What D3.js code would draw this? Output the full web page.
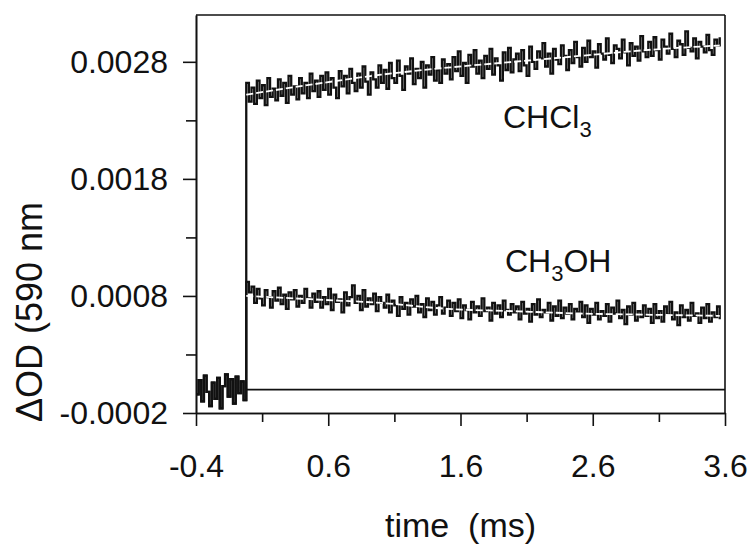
<!doctype html>
<html lang="en">

<head>
    <meta charset="utf-8">
    <title>d3 - transient absorption traces</title>
    <script src="https://cdn.jsdelivr.net/npm/d3@7"></script>
    <style>
        body {
            margin: 0;
            background: #ffffff;
        }

        svg {
            display: block;
            font-family: "Liberation Sans", Arial, sans-serif;
        }

        .axis path,
        .axis line {
            stroke: #111111;
            stroke-width: 1.6px;
        }

        .axis text {
            font-family: "Liberation Sans", Arial, sans-serif;
            font-size: 32px;
            fill: #111111;
        }

        .trace {
            fill: none;
            stroke: #111111;
            stroke-width: 2.3px;
        }

        .fit {
            fill: none;
            stroke: #ffffff;
            stroke-width: 1.8px;
            stroke-dasharray: 7, 3;
        }
    </style>
</head>

<body>
    <svg></svg>
    <script>
        var width = 752;
        var height = 545;
        var plotLeft = 196, plotRight = 725, plotTop = 15, plotBottom = 413;

        // axis ticks
        var xTicks = [-0.4, 0.6, 1.6, 2.6, 3.6];
        var xTickLabels = ["-0.4", "0.6", "1.6", "2.6", "3.6"];
        var xMinorTicks = [0.1, 1.1, 2.1, 3.1];
        var yTicks = [-0.0002, 0.0008, 0.0018, 0.0028];
        var yTickLabels = ["-0.0002", "0.0008", "0.0018", "0.0028"];
        var yMinorTicks = [0.0003, 0.0013, 0.0023];

        // sampling grid (ms)
        var sampleStep = 0.02;
        var preStart = -0.4;
        var postStart = -0.02;

        // before the flash (shared by both solvents)
        var preTrigger = [-0.00004, 0.00008, -0.00010, 0.00012, -0.00002, -0.00014, 0.00006, -0.00008, 0.00010, -0.00016,
            0.00003, 0.00013, -0.00006, 0.00009, -0.00012, 0.00011, -0.00003, 0.00007, -0.00009];

        // CHCl3 trace after the flash
        var chcl3 = [
            0.00262, 0.00246, 0.00258, 0.00244, 0.00264, 0.00249, 0.00260, 0.00243, 0.00266, 0.00250,
            0.00257, 0.00247, 0.00265, 0.00251, 0.00262, 0.00245, 0.00268, 0.00252, 0.00259, 0.00248,
            0.00266, 0.00253, 0.00262, 0.00249, 0.00270, 0.00255, 0.00264,
            0.00250, 0.00268, 0.00256, 0.00271, 0.00252, 0.00266, 0.00258, 0.00249, 0.00272, 0.00259,
            0.00268, 0.00253, 0.00274, 0.00262, 0.00255, 0.00270, 0.00258, 0.00276, 0.00263, 0.00252,
            0.00271, 0.00265, 0.00258, 0.00277, 0.00262,
            0.00273, 0.00257, 0.00279, 0.00266, 0.00262, 0.00281, 0.00268, 0.00256, 0.00276, 0.00270,
            0.00283, 0.00261, 0.00274, 0.00266, 0.00280, 0.00258, 0.00277, 0.00269, 0.00284, 0.00264,
            0.00273, 0.00262, 0.00282, 0.00270, 0.00278,
            0.00265, 0.00284, 0.00272, 0.00289, 0.00268, 0.00279, 0.00262, 0.00286, 0.00276, 0.00290,
            0.00270, 0.00281, 0.00266, 0.00285, 0.00274, 0.00291, 0.00269, 0.00283, 0.00277, 0.00264,
            0.00288, 0.00273, 0.00292, 0.00271, 0.00282,
            0.00287, 0.00272, 0.00290, 0.00277, 0.00268, 0.00293, 0.00280, 0.00274, 0.00289, 0.00283,
            0.00296, 0.00276, 0.00287, 0.00270, 0.00291, 0.00282, 0.00278, 0.00294, 0.00285, 0.00273,
            0.00290, 0.00279, 0.00297, 0.00284, 0.00276,
            0.00292, 0.00280, 0.00298, 0.00284, 0.00289, 0.00275, 0.00295, 0.00287, 0.00282, 0.00300,
            0.00286, 0.00279, 0.00294, 0.00291, 0.00283, 0.00299, 0.00288, 0.00277, 0.00296, 0.00285,
            0.00293, 0.00281, 0.00302, 0.00289, 0.00284,
            0.00297, 0.00285, 0.00301, 0.00290, 0.00282, 0.00299, 0.00293, 0.00287, 0.00304, 0.00291,
            0.00284, 0.00298, 0.00295, 0.00286, 0.00306, 0.00292, 0.00289, 0.00300, 0.00283, 0.00297,
            0.00293, 0.00288, 0.00303, 0.00290, 0.00286, 0.00299, 0.00294, 0.00301];

        // CH3OH trace after the flash
        var ch3oh = [
            0.00092, 0.00083, 0.00088, 0.00074, 0.00086, 0.00078, 0.00072, 0.00085, 0.00079, 0.00070,
            0.00084, 0.00076, 0.00087, 0.00073, 0.00081, 0.00069, 0.00083, 0.00077, 0.00085, 0.00071,
            0.00080, 0.00074, 0.00086, 0.00078, 0.00070, 0.00082, 0.00075,
            0.00084, 0.00070, 0.00079, 0.00073, 0.00086, 0.00068, 0.00081, 0.00075, 0.00077, 0.00066,
            0.00083, 0.00072, 0.00079, 0.00089, 0.00074, 0.00080, 0.00068, 0.00085, 0.00071, 0.00078,
            0.00073, 0.00082, 0.00067, 0.00079, 0.00074,
            0.00070, 0.00081, 0.00066, 0.00076, 0.00072, 0.00063, 0.00079, 0.00069, 0.00074, 0.00064,
            0.00077, 0.00071, 0.00080, 0.00066, 0.00073, 0.00062, 0.00078, 0.00068, 0.00075, 0.00064,
            0.00072, 0.00079, 0.00065, 0.00070, 0.00076,
            0.00063, 0.00074, 0.00067, 0.00077, 0.00061, 0.00072, 0.00068, 0.00060, 0.00075, 0.00066,
            0.00071, 0.00063, 0.00078, 0.00067, 0.00070, 0.00059, 0.00074, 0.00065, 0.00072, 0.00062,
            0.00076, 0.00068, 0.00064, 0.00073, 0.00066,
            0.00071, 0.00060, 0.00075, 0.00065, 0.00069, 0.00058, 0.00073, 0.00064, 0.00077, 0.00062,
            0.00068, 0.00066, 0.00074, 0.00059, 0.00071, 0.00063, 0.00076, 0.00061, 0.00070, 0.00065,
            0.00073, 0.00060, 0.00069, 0.00066, 0.00075,
            0.00062, 0.00072, 0.00057, 0.00069, 0.00064, 0.00074, 0.00060, 0.00067, 0.00063, 0.00073,
            0.00058, 0.00070, 0.00065, 0.00076, 0.00061, 0.00068, 0.00056, 0.00071, 0.00064, 0.00074,
            0.00059, 0.00067, 0.00062, 0.00072, 0.00063,
            0.00069, 0.00057, 0.00073, 0.00061, 0.00067, 0.00058, 0.00071, 0.00064, 0.00075, 0.00060,
            0.00066, 0.00055, 0.00072, 0.00062, 0.00068, 0.00059, 0.00074, 0.00063, 0.00065, 0.00057,
            0.00070, 0.00061, 0.00073, 0.00058, 0.00066, 0.00062, 0.00071, 0.00060];

        // fitted curves (white lines)
        var fitTimes = [-0.02, 0.5, 1.0, 1.5, 2.0, 2.5, 3.0, 3.56];
        var chcl3Fit = [0.00252, 0.00261, 0.00269, 0.00275, 0.00280, 0.00285, 0.00290, 0.00294];
        var ch3ohFit = [0.00080, 0.00077, 0.00074, 0.00069, 0.00067, 0.00065, 0.00064, 0.00063];

        // zero line after the flash
        var baseTimes = [-0.02, 3.6];
        var baseValues = [0, 0];

        var svg = d3.select('svg').attr('width', width).attr('height', height);

        var xScale = d3.scaleLinear().domain([-0.4, 3.6]).range([plotLeft, plotRight]);
        var yScale = d3.scaleLinear().domain([-0.0002, 0.0032]).range([plotBottom, plotTop]);

        var toPoints = function (values, start) {
            return values.map(function (v, i) { return { t: start + i * sampleStep, v: v }; });
        };

        var stepLine = d3.line()
            .x(function (d) { return xScale(d.t); })
            .y(function (d) { return yScale(d.v); })
            .curve(d3.curveStepAfter);

        var smoothLine = d3.line()
            .x(function (d) { return xScale(d.t); })
            .y(function (d) { return yScale(d.v); })
            .curve(d3.curveMonotoneX);

        var prePoints = toPoints(preTrigger, preStart);

        // zero line
        svg.append("path")
            .datum(baseTimes.map(function (t, i) { return { t: t, v: baseValues[i] }; }))
            .attr("class", "trace")
            .attr("stroke-width", 1.6)
            .style("stroke-width", "1.6px")
            .attr("d", smoothLine);

        // traces
        [ch3oh, chcl3].forEach(function (series) {
            svg.append("path")
                .datum(prePoints.concat(toPoints(series, postStart)))
                .attr("class", "trace")
                .attr("d", stepLine);
        });

        // fits
        [chcl3Fit, ch3ohFit].forEach(function (fit) {
            svg.append("path")
                .datum(fitTimes.map(function (t, i) { return { t: t, v: fit[i] }; }))
                .attr("class", "fit")
                .attr("d", smoothLine);
        });

        // frame top and right
        svg.append("line")
            .attr("x1", xScale(-0.4)).attr("x2", xScale(3.6))
            .attr("y1", yScale(0.0032)).attr("y2", yScale(0.0032))
            .attr("stroke", "#111").attr("stroke-width", 1.6);
        svg.append("line")
            .attr("x1", xScale(3.6)).attr("x2", xScale(3.6))
            .attr("y1", yScale(0.0032)).attr("y2", yScale(-0.0002))
            .attr("stroke", "#111").attr("stroke-width", 1.6);

        // axes
        svg.append("g")
            .attr("class", "axis")
            .attr("transform", "translate(0," + plotBottom + ")")
            .call(d3.axisBottom(xScale).tickValues(xMinorTicks).tickSize(9).tickSizeOuter(0).tickFormat(""));
        svg.append("g")
            .attr("class", "axis")
            .attr("transform", "translate(0," + plotBottom + ")")
            .call(d3.axisBottom(xScale).tickValues(xTicks).tickSize(13).tickSizeOuter(0).tickPadding(28)
                .tickFormat(function (d, i) { return xTickLabels[i]; }));

        svg.append("g")
            .attr("class", "axis")
            .attr("transform", "translate(" + plotLeft + ",0)")
            .call(d3.axisLeft(yScale).tickValues(yMinorTicks).tickSize(10).tickSizeOuter(0).tickFormat(""));
        svg.append("g")
            .attr("class", "axis")
            .attr("transform", "translate(" + plotLeft + ",0)")
            .call(d3.axisLeft(yScale).tickValues(yTicks).tickSize(13).tickSizeOuter(0).tickPadding(15)
                .tickFormat(function (d, i) { return yTickLabels[i]; }));

        // axis titles
        svg.append("text")
            .attr("x", (plotLeft + plotRight) / 2)
            .attr("y", 537)
            .attr("text-anchor", "middle")
            .attr("font-size", "34px")
            .attr("fill", "#111")
            .style("white-space", "pre")
            .text("time  (ms)");

        svg.append("text")
            .attr("transform", "translate(42,312) rotate(-90)")
            .attr("text-anchor", "middle")
            .attr("font-size", "36px")
            .attr("fill", "#111")
            .text("\u0394OD (590 nm");

        // solvent labels
        var chcl3Label = svg.append("text")
            .attr("x", 503).attr("y", 128)
            .attr("font-size", "32px").attr("fill", "#111");
        chcl3Label.append("tspan").text("CHCl");
        chcl3Label.append("tspan").attr("font-size", "22px").attr("dy", 9).text("3");

        var ch3ohLabel = svg.append("text")
            .attr("x", 505).attr("y", 272)
            .attr("font-size", "32px").attr("fill", "#111");
        ch3ohLabel.append("tspan").text("CH");
        ch3ohLabel.append("tspan").attr("font-size", "22px").attr("dy", 9).text("3");
        ch3ohLabel.append("tspan").attr("dy", -9).text("OH");
    </script>

</body>

</html>
